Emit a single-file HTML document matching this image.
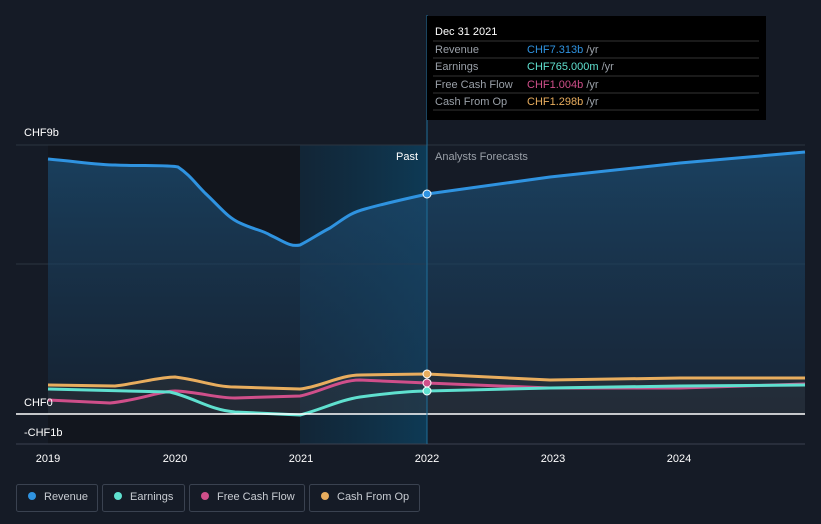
<!DOCTYPE html><html><head><style>body{margin:0;background:#151b26;font-family:"Liberation Sans",sans-serif}</style></head><body>
<svg width="821" height="524" xmlns="http://www.w3.org/2000/svg" style="display:block">
<defs>
<linearGradient id="hl" x1="0" x2="1"><stop offset="0" stop-color="#0f3047" stop-opacity=".5"/><stop offset="1" stop-color="#0e3a55"/></linearGradient>
<linearGradient id="rf" x1="0" y1="0" x2="0" y2="1"><stop offset="0" stop-color="#1b4a6e" stop-opacity=".8"/><stop offset="1" stop-color="#1b3550" stop-opacity=".4"/></linearGradient>
</defs>
<rect width="821" height="524" fill="#151b26"/>
<rect x="48" y="145" width="252" height="299" fill="#12161e"/>
<rect x="300" y="145" width="127" height="299" fill="url(#hl)"/>
<line x1="16" y1="145" x2="805" y2="145" stroke="#2c3440"/>
<line x1="16" y1="264" x2="805" y2="264" stroke="#2c3440"/>
<path d="M48,159 C80,162 100,165 115,165 C140,166 170,165 178,167 C190,175 195,183 205,193 C220,207 228,218 240,223 C255,230 262,230 270,235 C285,242 290,247 300,245 C310,240 320,233 330,228 C345,218 350,213 365,209 C390,202 410,198 427,194 L550,177 L680,163 L805,152 L805,414 L48,414 Z" fill="url(#rf)"/>
<path d="M48,385 L115,386 C140,383 160,377 175,377 C200,380 215,387 235,387 L300,389 C320,387 340,375 360,375 L427,374 L550,380 L680,378 L805,378 L805,414 L48,414Z" fill="#3a3a3a" fill-opacity=".35"/>
<path d="M48,159 C80,162 100,165 115,165 C140,166 170,165 178,167 C190,175 195,183 205,193 C220,207 228,218 240,223 C255,230 262,230 270,235 C285,242 290,247 300,245 C310,240 320,233 330,228 C345,218 350,213 365,209 C390,202 410,198 427,194 L550,177 L680,163 L805,152" fill="none" stroke="#2f93e0" stroke-width="3"/>
<path d="M48,385 L115,386 C140,383 160,377 175,377 C200,380 215,387 235,387 L300,389 C320,387 340,375 360,375 L427,374 L550,380 L680,378 L805,378" fill="none" stroke="#e8ad5e" stroke-width="3"/>
<path d="M48,400 L110,403 C140,400 160,391 175,391 C200,392 215,398 235,398 L300,396 C320,392 340,380 360,380 L427,383 L550,388 L680,388 L805,384" fill="none" stroke="#cf4f8a" stroke-width="3"/>
<path d="M48,389 L170,392 C195,398 210,410 235,412 L300,415 C320,410 340,400 360,397 C390,393 410,391 427,391 L550,388 L680,386 L805,385" fill="none" stroke="#5fe0cf" stroke-width="3"/>
<line x1="16" y1="414" x2="805" y2="414" stroke="#fff" stroke-width="1.5"/>
<line x1="16" y1="444" x2="805" y2="444" stroke="#3a4250"/>
<line x1="427" y1="15" x2="427" y2="444" stroke="#1e6f9a" stroke-width="1"/>
<circle cx="427" cy="194" r="4" fill="#2f93e0" stroke="#fff" stroke-width="1"/>
<circle cx="427" cy="374" r="4" fill="#e8ad5e" stroke="#fff" stroke-width="1"/>
<circle cx="427" cy="383" r="4" fill="#cf4f8a" stroke="#fff" stroke-width="1"/>
<circle cx="427" cy="391" r="4" fill="#5fe0cf" stroke="#fff" stroke-width="1"/>
<g fill="#fff" font-size="11">
<text x="24" y="136">CHF9b</text><text x="24" y="406">CHF0</text><text x="24" y="436">-CHF1b</text>
<text x="396" y="160">Past</text>
<text x="435" y="160" fill="#9aa0a8">Analysts Forecasts</text>
<g text-anchor="middle"><text x="48" y="462">2019</text><text x="175" y="462">2020</text><text x="301" y="462">2021</text><text x="427" y="462">2022</text><text x="553" y="462">2023</text><text x="679" y="462">2024</text></g>
</g>
<rect x="427" y="16" width="339" height="104" fill="#000"/>
<g font-size="11">
<text x="435" y="35" fill="#fff">Dec 31 2021</text>
<g stroke="#333"><line x1="433" y1="41" x2="759" y2="41"/><line x1="433" y1="58" x2="759" y2="58"/><line x1="433" y1="76" x2="759" y2="76"/><line x1="433" y1="93" x2="759" y2="93"/><line x1="433" y1="110" x2="759" y2="110"/></g>
<g fill="#9aa0a8"><text x="435" y="53">Revenue</text><text x="435" y="70">Earnings</text><text x="435" y="88">Free Cash Flow</text><text x="435" y="105">Cash From Op</text></g>
<text x="527" y="53" fill="#2f93e0">CHF7.313b <tspan fill="#9aa0a8">/yr</tspan></text>
<text x="527" y="70" fill="#5fe0cf">CHF765.000m <tspan fill="#9aa0a8">/yr</tspan></text>
<text x="527" y="88" fill="#cf4f8a">CHF1.004b <tspan fill="#9aa0a8">/yr</tspan></text>
<text x="527" y="105" fill="#e8ad5e">CHF1.298b <tspan fill="#9aa0a8">/yr</tspan></text>
</g>
<g font-size="11" fill="#c8ccd2">
<rect x="16.5" y="484.5" width="81" height="27" rx="2" fill="none" stroke="#3a4250"/><circle cx="32" cy="496" r="4" fill="#2f93e0"/><text x="44" y="500">Revenue</text>
<rect x="102.5" y="484.5" width="82" height="27" rx="2" fill="none" stroke="#3a4250"/><circle cx="118" cy="496" r="4" fill="#5fe0cf"/><text x="130" y="500">Earnings</text>
<rect x="189.5" y="484.5" width="115" height="27" rx="2" fill="none" stroke="#3a4250"/><circle cx="205" cy="496" r="4" fill="#cf4f8a"/><text x="217" y="500">Free Cash Flow</text>
<rect x="309.5" y="484.5" width="110" height="27" rx="2" fill="none" stroke="#3a4250"/><circle cx="325" cy="496" r="4" fill="#e8ad5e"/><text x="337" y="500">Cash From Op</text>
</g>
</svg></body></html>
